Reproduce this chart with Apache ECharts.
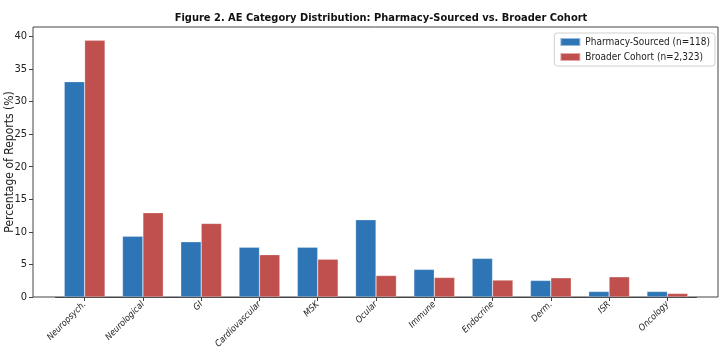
<!DOCTYPE html>
<html>
<head>
<meta charset="utf-8">
<script src="https://cdn.jsdelivr.net/npm/echarts@6/dist/echarts.min.js"></script>
<style>
  html, body { margin: 0; padding: 0; background: #fff; }
  #chart { width: 723px; height: 352px; }
</style>
</head>
<body>
<div id="chart"></div>
<script>
const categories = ['Neuropsych.', 'Neurological', 'GI', 'Cardiovascular', 'MSK', 'Ocular', 'Immune', 'Endocrine', 'Derm.', 'ISR', 'Oncology']
const pharmacySourced = [33.05, 9.32, 8.47, 7.63, 7.63, 11.86, 4.24, 5.93, 2.54, 0.85, 0.85]
const broaderCohort = [39.4, 12.95, 11.3, 6.5, 5.8, 3.3, 3.0, 2.6, 2.95, 3.1, 0.55]
const yMax = 41.45

const font = "'DejaVu Sans Condensed', 'DejaVu Sans', sans-serif"

const chart = echarts.init(document.getElementById('chart'))

// grid 0 holds the bars (category bands), grid 1 is the matplotlib-style frame + y axis
chart.setOption({
  animation: false,
  textStyle: { fontFamily: font },
  title: {
    text: 'Figure 2. AE Category Distribution: Pharmacy-Sourced vs. Broader Cohort',
    left: 376,
    textAlign: 'center',
    top: 8,
    textStyle: { fontFamily: font, fontSize: 11, fontWeight: 'bold', color: '#111' }
  },
  legend: {
    orient: 'vertical',
    right: 8,
    top: 33,
    icon: 'rect',
    itemWidth: 20,
    itemHeight: 8,
    itemGap: 5,
    padding: [4, 5, 4, 5],
    borderColor: '#d0d0d0',
    borderWidth: 1,
    borderRadius: 3,
    textStyle: { fontFamily: font, fontSize: 10, color: '#222' },
    data: ['Pharmacy-Sourced (n=118)', 'Broader Cohort (n=2,323)']
  },
  grid: [
    { left: 55.5, right: 26.5, top: 27, bottom: 55, outerBoundsMode: 'none', containLabel: false },
    { left: 33, right: 5, top: 27, bottom: 55, outerBoundsMode: 'none', containLabel: false, show: true, borderColor: '#444', borderWidth: 1 }
  ],
  xAxis: [
    {
      type: 'category',
      gridIndex: 0,
      data: categories,
      boundaryGap: true,
      axisLine: { show: true, lineStyle: { color: '#444' } },
      axisTick: { show: true, alignWithLabel: true, length: 4, lineStyle: { color: '#444' } },
      axisLabel: {
        interval: 0,
        rotate: 45,
        fontSize: 9,
        fontStyle: 'italic',
        color: '#222',
        margin: 6
      }
    },
    { type: 'value', gridIndex: 1, min: 0, max: 1, show: false }
  ],
  yAxis: [
    { type: 'value', gridIndex: 0, min: 0, max: yMax, show: false },
    {
      type: 'value',
      gridIndex: 1,
      min: 0,
      max: yMax,
      interval: 5,
      name: 'Percentage of Reports (%)',
      nameLocation: 'middle',
      nameGap: 17,
      nameMoveOverlap: false,
      nameTextStyle: { fontFamily: font, fontSize: 12, color: '#222' },
      splitLine: { show: false },
      axisLine: { show: false },
      axisTick: { show: true, length: 4, lineStyle: { color: '#444' } },
      axisLabel: { fontSize: 11, color: '#222', margin: 6, showMaxLabel: false }
    }
  ],
  series: [
    {
      name: 'Pharmacy-Sourced (n=118)',
      type: 'bar',
      xAxisIndex: 0,
      yAxisIndex: 0,
      barWidth: 20.4,
      barGap: '0%',
      itemStyle: { color: '#2e75b6', borderColor: 'rgba(255,255,255,0.5)', borderWidth: 0.5 },
      data: pharmacySourced
    },
    {
      name: 'Broader Cohort (n=2,323)',
      type: 'bar',
      xAxisIndex: 0,
      yAxisIndex: 0,
      barWidth: 20.4,
      barGap: '0%',
      itemStyle: { color: '#c0504d', borderColor: 'rgba(255,255,255,0.5)', borderWidth: 0.5 },
      data: broaderCohort
    }
  ]
})
</script>
</body>
</html>
